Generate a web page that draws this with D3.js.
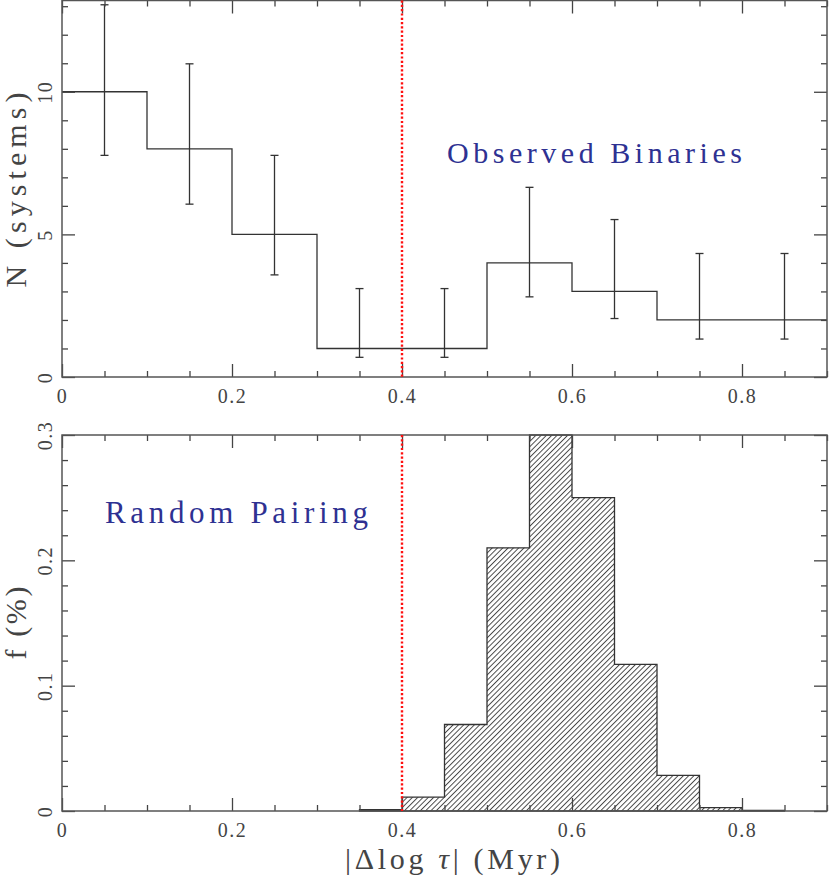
<!doctype html>
<html>
<head>
<meta charset="utf-8">
<title>Binaries vs random pairing</title>
<style>
  body { margin: 0; background: #fff; }
  text { font-family: "Liberation Serif", "DejaVu Serif", serif; }
</style>
</head>
<body>
<div id="chart-area"></div>
<script src="https://cdn.jsdelivr.net/npm/d3@7"></script>
<script type="text/javascript">
  // ---- data ----
  var obsBinStart = [0, 0.1, 0.2, 0.3, 0.4, 0.5, 0.6, 0.7, 0.8];
  var obsCounts = [10, 8, 5, 1, 1, 4, 3, 2, 2];
  var obsErrHigh = [13.05, 10.98, 7.77, 3.1, 3.1, 6.65, 5.52, 4.33, 4.33];
  var obsErrLow = [7.77, 6.06, 3.58, 0.69, 0.69, 2.81, 2.05, 1.33, 1.33];
  var obsBinWidth = 0.1;

  var randBinStart = [0.35, 0.40, 0.45, 0.50, 0.55, 0.60, 0.65, 0.70, 0.75, 0.80];
  var randFrac = [0.001, 0.011, 0.069, 0.21, 0.30, 0.25, 0.117, 0.0285, 0.0027, 0.0004];
  var randBinWidth = 0.05;

  var xMajorTicks = [0, 0.2, 0.4, 0.6, 0.8];
  var xMinorTicks = d3.range(0, 0.901, 0.05);
  var obsMajorTicks = [0, 5, 10];
  var obsMinorTicks = d3.range(0, 14, 1);
  var randMajorTicks = [0, 0.1, 0.2, 0.3];
  var randMinorTicks = d3.range(0, 0.301, 0.02);
  var cutValue = 0.4;

  var W = 830, H = 882;
  var textColor = '#444', lineColor = '#444', blue = '#2e3192';

  var svg = d3.select('#chart-area')
      .append('svg')
      .attr('width', W)
      .attr('height', H);

  // hatch pattern
  var defs = svg.append('defs');
  defs.append('pattern')
      .attr('id', 'hatch')
      .attr('patternUnits', 'userSpaceOnUse')
      .attr('width', 3.75)
      .attr('height', 10)
      .attr('patternTransform', 'rotate(45)')
      .append('line')
      .attr('x1', 0.5).attr('y1', 0)
      .attr('x2', 0.5).attr('y2', 10)
      .attr('stroke', '#333')
      .attr('stroke-width', 0.9);

  // Scales
  var x = d3.scaleLinear().domain([0, 0.9]).range([62, 827]);
  var yObs = d3.scaleLinear().domain([0, 13.2]).range([377, 0.5]);
  var yRand = d3.scaleLinear().domain([0, 0.3]).range([811, 435]);

  function xMinor() {
    return xMinorTicks.filter(function(d) {
      return xMajorTicks.every(function(m) { return Math.abs(m - d) > 1e-6; });
    });
  }

  function drawFrame(yScale, yMinor, yMajor, yFmt) {
    var top = yScale.range()[1], bottom = yScale.range()[0];
    var left = x.range()[0], right = x.range()[1];
    var g = svg.append('g');

    function styleAxis(sel) {
      sel.select('.domain').remove();
      sel.selectAll('line').attr('stroke', lineColor).attr('stroke-width', 1.3);
    }

    // bottom ticks + labels
    g.append('g').attr('transform', 'translate(0,' + bottom + ')')
        .call(d3.axisBottom(x).tickValues(xMinor()).tickSize(-6).tickFormat(''))
        .call(styleAxis);
    var bx = g.append('g').attr('transform', 'translate(0,' + bottom + ')')
        .call(d3.axisBottom(x).tickValues(xMajorTicks).tickSize(-13)
            .tickFormat(function(d) { return d === 0 ? '0' : d3.format('.1f')(d); }))
        .call(styleAxis);
    bx.selectAll('text')
        .attr('y', 26).attr('dy', 0)
        .attr('fill', textColor)
        .attr('font-size', '20px')
        .attr('letter-spacing', '1.5px')
        .attr('font-family', '"Liberation Serif", serif');

    // top ticks
    g.append('g').attr('transform', 'translate(0,' + top + ')')
        .call(d3.axisTop(x).tickValues(xMinor()).tickSize(-6).tickFormat(''))
        .call(styleAxis);
    g.append('g').attr('transform', 'translate(0,' + top + ')')
        .call(d3.axisTop(x).tickValues(xMajorTicks).tickSize(-13).tickFormat(''))
        .call(styleAxis);

    // left ticks + rotated labels
    g.append('g').attr('transform', 'translate(' + left + ',0)')
        .call(d3.axisLeft(yScale).tickValues(yMinor).tickSize(-6).tickFormat(''))
        .call(styleAxis);
    var ly = g.append('g').attr('transform', 'translate(' + left + ',0)')
        .call(d3.axisLeft(yScale).tickValues(yMajor).tickSize(-13).tickFormat(yFmt))
        .call(styleAxis);
    ly.selectAll('text')
        .attr('x', 0).attr('dy', 0)
        .attr('transform', 'translate(-10,0) rotate(-90)')
        .attr('text-anchor', 'middle')
        .attr('fill', textColor)
        .attr('font-size', '20px')
        .attr('letter-spacing', '1.5px')
        .attr('font-family', '"Liberation Serif", serif');

    // right ticks
    g.append('g').attr('transform', 'translate(' + right + ',0)')
        .call(d3.axisRight(yScale).tickValues(yMinor).tickSize(-6).tickFormat(''))
        .call(styleAxis);
    g.append('g').attr('transform', 'translate(' + right + ',0)')
        .call(d3.axisRight(yScale).tickValues(yMajor).tickSize(-13).tickFormat(''))
        .call(styleAxis);

    // frame
    g.append('rect')
        .attr('x', left).attr('y', top)
        .attr('width', right - left).attr('height', bottom - top)
        .attr('fill', 'none')
        .attr('stroke', '#555')
        .attr('stroke-width', 1.5);

    // dotted cut line
    g.append('line')
        .attr('x1', x(cutValue)).attr('x2', x(cutValue))
        .attr('y1', top).attr('y2', bottom)
        .attr('stroke', '#ff1010')
        .attr('stroke-width', 2.4)
        .attr('stroke-dasharray', '2.2,2.1');
  }

  // ---- top panel: observed binaries ----
  var obsPts = obsBinStart.map(function(d, i) { return [d, obsCounts[i]]; });
  obsPts.push([obsBinStart[obsBinStart.length - 1] + obsBinWidth, obsCounts[obsCounts.length - 1]]);
  var stepLine = d3.line()
      .x(function(d) { return x(d[0]); })
      .y(function(d) { return yObs(d[1]); })
      .curve(d3.curveStepAfter);
  svg.append('path')
      .attr('d', stepLine(obsPts))
      .attr('fill', 'none')
      .attr('stroke', '#333')
      .attr('stroke-width', 1.3);

  var errG = svg.append('g').attr('stroke', '#333').attr('stroke-width', 1.3);
  obsBinStart.forEach(function(d, i) {
    var cx = x(d + obsBinWidth / 2);
    errG.append('line')
        .attr('x1', cx).attr('x2', cx)
        .attr('y1', yObs(obsErrLow[i])).attr('y2', yObs(obsErrHigh[i]));
    [obsErrLow[i], obsErrHigh[i]].forEach(function(v) {
      errG.append('line')
          .attr('x1', cx - 4).attr('x2', cx + 4)
          .attr('y1', yObs(v)).attr('y2', yObs(v));
    });
  });

  drawFrame(yObs, obsMinorTicks.filter(function(d) { return d % 5 !== 0; }), obsMajorTicks,
      function(d) { return String(d); });

  // ---- bottom panel: random pairing ----
  var randPts = [[randBinStart[0], 0]];
  randBinStart.forEach(function(d, i) { randPts.push([d, randFrac[i]]); });
  randPts.push([randBinStart[randBinStart.length - 1] + randBinWidth, 0]);
  var stepArea = d3.area()
      .x(function(d) { return x(d[0]); })
      .y0(yRand(0))
      .y1(function(d) { return yRand(d[1]); })
      .curve(d3.curveStepAfter);
  svg.append('path')
      .attr('d', stepArea(randPts))
      .attr('fill', 'url(#hatch)')
      .attr('stroke', '#333')
      .attr('stroke-width', 1.3);

  drawFrame(yRand, randMinorTicks.filter(function(d) {
    return randMajorTicks.every(function(m) { return Math.abs(m - d) > 1e-6; });
  }), randMajorTicks, function(d) { return d === 0 ? '0' : d3.format('.1f')(d); });

  // ---- labels ----
  svg.append('text')
      .attr('x', 447).attr('y', 163)
      .attr('font-size', '30px')
      .attr('fill', blue)
      .attr('textLength', 295)
      .text('Observed Binaries');

  svg.append('text')
      .attr('x', 105).attr('y', 523)
      .attr('font-size', '31px')
      .attr('fill', blue)
      .attr('textLength', 263)
      .text('Random Pairing');

  svg.append('text')
      .attr('transform', 'translate(26,190) rotate(-90)')
      .attr('text-anchor', 'middle')
      .attr('font-size', '30px')
      .attr('fill', textColor)
      .attr('textLength', 195)
      .text('N (systems)');

  svg.append('text')
      .attr('transform', 'translate(26,623) rotate(-90)')
      .attr('text-anchor', 'middle')
      .attr('font-size', '30px')
      .attr('fill', textColor)
      .attr('textLength', 73)
      .text('f (%)');

  var xl = svg.append('text')
      .attr('x', 345).attr('y', 869)
      .attr('font-size', '30px')
      .attr('fill', textColor)
      .attr('textLength', 215);
  xl.append('tspan').text('|Δlog ');
  xl.append('tspan').attr('font-style', 'italic').text('τ');
  xl.append('tspan').text('| (Myr)');
</script>
</body>
</html>
